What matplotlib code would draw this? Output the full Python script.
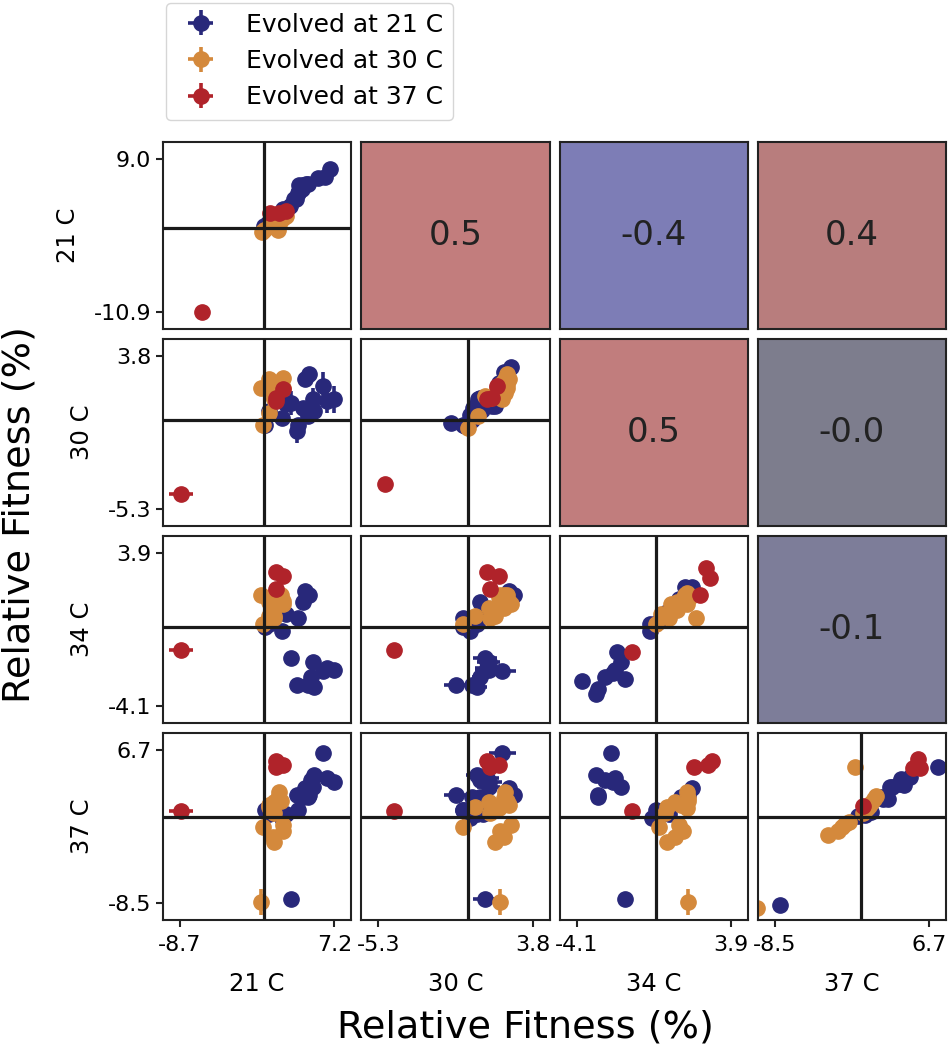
import numpy as np
import matplotlib
matplotlib.use('Agg')
import matplotlib.pyplot as plt

temps = ['21 C', '30 C', '34 C', '37 C']
col_ticks = [(-8.7, 7.2), (-5.3, 3.8), (-4.1, 3.9), (-8.5, 6.7)]
row_ticks = [(-10.9, 9.0), (-5.3, 3.8), (-4.1, 3.9), (-8.5, 6.7)]

# correlations shown in the upper triangle: (row, col, r)
corr_rows = [0, 0, 0, 1, 1, 2]
corr_cols = [1, 2, 3, 2, 3, 3]
corr_vals = [0.53, -0.36, 0.39, 0.52, -0.03, -0.09]

# mean relative fitness of each line, columns = 21, 30, 34, 37 C
blue_fit = np.array([
    [6.0, 2.0, -2.3, 6.4], [7.2, 1.2, -2.2, 3.5], [6.4, 1.1, -2.1, 3.9],
    [5.1, 0.5, -3.1, 4.2], [4.8, 0.7, -2.6, 3.7], [5.0, 1.2, -1.8, 3.0],
    [4.5, 0.2, -3.0, 2.0], [3.4, -0.7, -3.0, 2.2], [2.7, 1.0, -1.6, -8.1],
    [4.2, 2.4, 1.9, 2.9], [4.6, 2.7, 1.7, 2.2], [4.0, 0.7, 1.3, 2.0],
    [3.5, -0.3, 0.5, 0.7], [2.2, 0.9, 0.7, 0.3], [1.8, 0.1, -0.2, -0.1],
    [0.1, -0.3, 0.0, 0.7], [0.5, 0.5, 0.2, 0.3]])
blue_err = np.array([
    [0.15, 0.8, 0.1, 0.15], [0.15, 0.8, 0.1, 0.1], [0.15, 0.7, 0.1, 0.1],
    [0.1, 0.6, 0.1, 0.1], [0.1, 0.5, 0.1, 0.1], [0.1, 0.7, 0.1, 0.1],
    [0.1, 0.4, 0.1, 0.1], [0.1, 0.7, 0.1, 0.1], [0.1, 0.7, 0.1, 0.1],
    [0.1, 0.2, 0.1, 0.1], [0.1, 0.2, 0.1, 0.1], [0.1, 0.3, 0.1, 0.1],
    [0.1, 0.1, 0.1, 0.1], [0.1, 0.1, 0.1, 0.1], [0.1, 0.1, 0.1, 0.1],
    [0.1, 0.1, 0.1, 0.1], [0.1, 0.1, 0.1, 0.1]])
blue_rep1 = np.array([
    [5.5, 1.8, -2.2, 7.6], [6.7, 1.6, -1.6, 3.7], [6.2, 1.4, -2.1, 3.9],
    [4.5, 0.3, -3.1, 4.8], [4.0, 0.5, -2.6, 4.2], [4.3, 1.5, -1.8, 3.0],
    [3.9, 0.1, -3.0, 2.2], [3.0, -1.0, -3.8, 2.5], [2.6, 0.7, -2.0, -8.0],
    [3.6, 2.1, 1.9, 2.8], [3.6, 2.5, 1.5, 2.6], [3.5, 0.8, 1.2, 2.0],
    [3.2, -0.3, 0.4, 1.0], [1.9, 0.6, 0.6, 0.4], [1.7, 0.2, -0.3, -0.3],
    [0.0, -0.2, -0.3, 0.8], [0.4, 0.5, 0.1, 0.3]])
blue_rep2 = np.array([
    [6.5, 2.2, -2.4, 5.0], [7.7, 0.8, -2.7, 3.3], [6.6, 0.8, -2.2, 3.8],
    [5.7, 0.7, -3.5, 4.0], [5.6, 0.9, -2.6, 3.2], [5.7, 0.9, -1.8, 3.0],
    [5.1, 0.3, -3.2, 1.8], [3.8, -0.2, -2.8, 1.9], [2.8, 1.3, -1.3, -8.7],
    [4.8, 2.8, 2.1, 3.0], [5.6, 3.1, 2.1, 1.8], [4.5, 0.6, 1.5, 2.0],
    [3.8, -0.3, 0.4, 0.5], [2.5, 1.2, 0.8, 0.2], [1.9, 0.0, -0.2, 0.1],
    [0.2, -0.4, 0.2, 0.6], [0.6, 0.5, 0.3, 0.3]])

orange_fit = np.array([
    [-0.4, 1.9, 1.7, -8.4], [1.5, 2.2, 1.6, 2.5], [1.0, 1.6, 0.6, -2.5],
    [0.9, 2.1, 1.0, -2.0], [1.9, 1.9, 1.4, -1.4], [-0.2, -0.3, 0.2, -1.0],
    [1.9, 2.5, 1.2, -0.8], [0.5, 0.4, 0.6, 1.0], [1.0, 1.2, 1.0, 1.5],
    [1.0, 1.3, 0.5, 0.4], [1.4, 2.1, 1.7, 1.9], [0.5, 2.4, 1.3, 1.2],
    [0.6, 1.8, 1.6, 0.9], [1.7, 2.3, 1.7, 1.6]])
orange_err = np.array([
    [0.1, 0.1, 0.1, 1.25], [0.1, 0.1, 0.1, 0.5], [0.1, 0.1, 0.1, 0.15],
    [0.1, 0.1, 0.1, 0.15], [0.1, 0.1, 0.1, 0.4], [0.1, 0.1, 0.1, 0.1],
    [0.1, 0.1, 0.1, 0.1], [0.1, 0.1, 0.1, 0.1], [0.1, 0.1, 0.1, 0.1],
    [0.1, 0.1, 0.1, 0.1], [0.1, 0.1, 0.1, 0.1], [0.1, 0.1, 0.1, 0.1],
    [0.1, 0.1, 0.1, 0.1], [0.1, 0.1, 0.1, 0.1]])
orange_rep1 = np.array([
    [-0.3, 2.2, 1.6, -10.3], [1.8, 2.3, 1.5, -0.6], [1.4, 2.0, 0.6, -3.3],
    [1.2, 2.3, 1.1, -2.3], [2.2, 2.0, 1.6, -1.9], [-0.1, 0.0, 0.0, -1.6],
    [2.0, 2.3, 1.1, -1.2], [0.6, 0.6, 0.7, 0.5], [1.5, 1.0, 0.8, 1.0],
    [1.2, 1.3, 0.3, 0.2], [1.6, 2.0, 1.8, 1.5], [0.8, 2.4, 2.1, 0.8],
    [1.4, 1.7, 1.5, 0.6], [2.0, 2.2, 1.7, 1.3]])
orange_rep2 = np.array([
    [-0.5, 1.6, 1.8, -9.0], [1.2, 2.1, 1.7, 5.0], [0.6, 1.2, 0.6, -1.8],
    [0.6, 1.9, 0.9, -1.4], [1.6, 1.8, 1.2, -1.0], [-0.3, -0.5, 0.2, -0.7],
    [1.8, 2.7, 1.3, -0.5], [0.4, 0.2, 0.5, 0.8], [0.5, 1.4, 1.2, 1.4],
    [0.8, 1.3, 0.7, 0.4], [1.2, 2.2, 1.6, 2.1], [0.2, 2.4, 0.5, 1.1],
    [-0.2, 1.9, 1.7, 0.9], [1.4, 2.4, 1.7, 1.8]])

red_fit = np.array([
    [-8.6, -4.4, -1.2, 0.6], [1.2, 1.1, 2.9, 5.6],
    [1.9, 1.8, 2.7, 5.2], [1.2, 1.3, 2.0, 5.0]])
red_err = np.array([
    [1.2, 0.1, 0.1, 0.1], [0.1, 0.1, 0.1, 0.1],
    [0.1, 0.1, 0.1, 0.1], [0.1, 0.1, 0.1, 0.1]])
red_rep1 = np.array([
    [-6.4, -4.9, -1.2, 0.2], [0.6, 1.1, 2.6, 5.6],
    [2.2, 1.7, 2.8, 5.1], [1.5, 1.4, 2.3, 5.8]])
red_rep2 = np.array([
    [-10.9, -3.8, -1.3, 1.1], [1.9, 1.2, 3.1, 5.8],
    [2.2, 2.0, 2.6, 4.9], [2.0, 1.3, 1.7, 4.9]])

groups = [
    ('Evolved at 21 C', '#28287a', blue_fit, blue_err, blue_rep1, blue_rep2),
    ('Evolved at 30 C', '#d4893c', orange_fit, orange_err, orange_rep1, orange_rep2),
    ('Evolved at 37 C', '#b0232a', red_fit, red_err, red_rep1, red_rep2),
]


def padded(lo, hi):
    pad = 0.11 * (hi - lo)
    return lo - pad, hi + pad


def corr_color(r):
    a = 0.37 * np.sqrt(abs(r))
    return (0.49 + a * (r > 0), 0.49, 0.49 + a * (r < 0))


fig, axes = plt.subplots(4, 4, figsize=(9.48, 10.5))
fig.subplots_adjust(left=0.172, right=0.998, top=0.865, bottom=0.124,
                    wspace=0.053, hspace=0.053)

handles = []
for i in range(4):
    for j in range(4):
        ax = axes[i, j]
        for s in ax.spines.values():
            s.set_linewidth(1.5)
            s.set_color('#222222')
        ax.set_xticks([])
        ax.set_yticks([])
        if j > i:
            continue
        for label, color, fit, err, rep1, rep2 in groups:
            if i == j:
                ax.plot(rep1[:, i], rep2[:, i], 'o', color=color, ms=11, zorder=2)
            else:
                eb = ax.errorbar(fit[:, j], fit[:, i], xerr=err[:, j], yerr=err[:, i],
                                 fmt='o', color=color, ms=11, elinewidth=2.6,
                                 capsize=0, label=label, zorder=2)
                if i == 1 and j == 0:
                    handles.append(eb)
        ax.axhline(0, color='#1a1a1a', lw=2.3, zorder=3)
        ax.axvline(0, color='#1a1a1a', lw=2.3, zorder=3)
        ax.set_xlim(padded(*col_ticks[j]))
        ax.set_ylim(padded(*row_ticks[i]))
        if j == 0:
            ax.set_yticks(row_ticks[i])
            ax.set_yticklabels(['%.1f' % v for v in row_ticks[i]])
            ax.set_ylabel(temps[i], fontsize=17.5, labelpad=10)
        if i == 3:
            ax.set_xticks(col_ticks[j])
            ax.set_xticklabels(['%.1f' % v for v in col_ticks[j]])
            ax.set_xlabel(temps[j], fontsize=17.5, labelpad=12)
        ax.tick_params(labelsize=16, length=5, width=1.5, color='#222222')
        ax.tick_params(axis='x', pad=6)

for r, c, v in zip(corr_rows, corr_cols, corr_vals):
    ax = axes[r, c]
    ax.set_facecolor(corr_color(v))
    ax.text(0.5, 0.5, '%.1f' % v, transform=ax.transAxes, ha='center',
            va='center', fontsize=24.5, color='#222222')

fig.text(0.554, 0.004, 'Relative Fitness (%)', ha='center', va='bottom', fontsize=27.5)
fig.text(0.002, 0.51, 'Relative Fitness (%)', ha='left', va='center',
         rotation=90, fontsize=27.5)

fig.legend(handles=handles, loc='upper left', bbox_to_anchor=(0.172, 1.0),
           fontsize=18, borderaxespad=0.1)

fig.savefig('out.png', dpi=100)
